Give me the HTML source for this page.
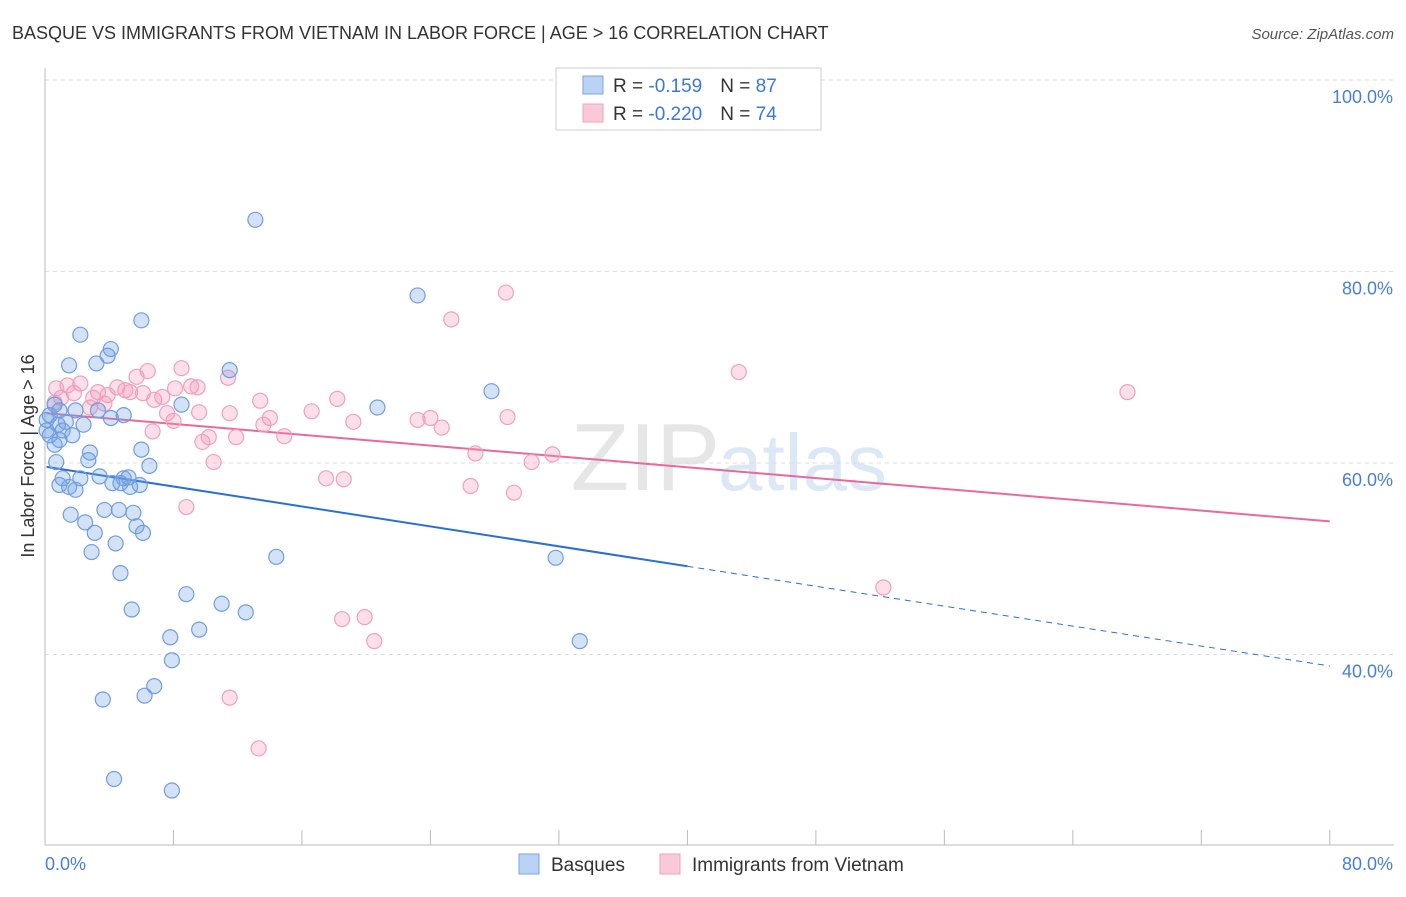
<!DOCTYPE html>
<html><head><meta charset="utf-8"><style>
body{margin:0;background:#fff;font-family:"Liberation Sans",sans-serif;}
svg text{font-family:"Liberation Sans",sans-serif;}
</style></head><body>
<svg id="chart" width="1406" height="892" xmlns="http://www.w3.org/2000/svg">
<text x="12" y="39" font-size="18" fill="#333">BASQUE VS IMMIGRANTS FROM VIETNAM IN LABOR FORCE | AGE &gt; 16 CORRELATION CHART</text>
<text x="1394" y="39" font-size="15" fill="#555" font-style="italic" text-anchor="end">Source: ZipAtlas.com</text>
<text x="720" y="490" font-size="96" fill="#e6e6e6" font-family="Liberation Serif" text-anchor="end">ZIP</text>
<text x="718" y="490" font-size="80" fill="#dce8f6">atlas</text>
<g id="grid"></g><g id="axes"></g><g id="trend"></g><g id="pts"></g>
<text transform="translate(34,456) rotate(-90)" font-size="18" fill="#333" text-anchor="middle">In Labor Force | Age &gt; 16</text>
<text x="45" y="870" font-size="18" fill="#4a7fd4">0.0%</text>
<text x="1393" y="870" font-size="18" fill="#4a7fd4" text-anchor="end">80.0%</text>
<g>
<rect x="556" y="68" width="265" height="62" fill="#fff" stroke="#ccc"/>
<rect x="583" y="76" width="20" height="18" fill="#b9d3f5" stroke="#7aa6e0"/>
<rect x="583" y="104" width="20" height="18" fill="#f9c9d8" stroke="#eea3bd"/>
<text x="613" y="92" font-size="19" fill="#333">R = <tspan fill="#3c78d8"> -0.159</tspan><tspan dx="18">N = </tspan><tspan fill="#3c78d8">87</tspan></text>
<text x="613" y="120" font-size="19" fill="#333">R = <tspan fill="#3c78d8">-0.220</tspan><tspan dx="18">N = </tspan><tspan fill="#3c78d8">74</tspan></text>
</g>
<g>
<rect x="519" y="854" width="20" height="20" fill="#b9d3f5" stroke="#7aa6e0"/>
<text x="551" y="871" font-size="19" fill="#333">Basques</text>
<rect x="660" y="854" width="20" height="20" fill="#f9c9d8" stroke="#eea3bd"/>
<text x="692" y="871" font-size="19" fill="#333">Immigrants from Vietnam</text>
</g>
</svg>
<script>
const yTicks=[40,60,80,100];
const xTickCount=10;
const blueX=[13.1,23.2,6.0,2.2,4.1,3.9,1.5,3.2,11.5,27.8,20.7,8.5,4.9,4.1,0.6,0.3,0.9,1.9,3.3,0.8,0.1,1.1,2.4,1.7,0.9,0.6,2.8,2.7,6.0,0.7,6.5,1.1,3.4,2.2,4.9,5.2,5.9,0.9,1.5,1.9,5.3,4.7,1.6,3.7,4.6,5.5,2.5,5.7,6.1,3.1,4.4,2.9,14.4,31.8,4.7,8.8,5.4,11.0,12.5,9.6,7.8,33.3,7.9,6.8,6.2,3.6,4.3,7.9,0.1,0.3,1.3,4.2];
const blueY=[85.4,77.5,74.9,73.4,71.9,71.2,70.2,70.4,69.7,67.5,65.8,66.1,65.0,64.7,66.1,65.0,65.5,65.5,65.5,64.0,63.4,63.4,64.0,62.9,62.4,61.9,61.1,60.3,61.4,60.1,59.7,58.4,58.6,58.4,58.4,58.5,57.7,57.7,57.5,57.2,57.5,57.9,54.6,55.1,55.1,54.8,53.8,53.4,52.7,52.7,51.6,50.7,50.2,50.1,48.5,46.3,44.7,45.3,44.4,42.6,41.8,41.4,39.4,36.7,35.7,35.3,27.0,25.8,64.5,62.9,64.3,57.9];
const pinkX=[28.7,25.3,43.2,67.4,8.5,6.4,5.7,11.4,9.1,9.5,8.1,4.5,5.0,2.2,1.4,0.7,1.8,3.3,3.9,3.0,5.3,6.1,6.8,7.3,1.0,0.6,13.4,18.2,16.6,11.5,14.0,23.2,24.0,28.8,19.2,9.6,7.6,8.0,13.6,14.9,11.9,10.2,9.8,6.7,24.7,26.8,31.6,30.3,10.5,17.5,18.6,26.5,29.2,8.8,52.2,18.5,19.9,20.5,11.5,13.3,3.7,2.8];
const pinkY=[77.8,75.0,69.5,67.4,69.9,69.6,69.0,68.9,68.0,67.9,67.8,67.9,67.6,68.3,68.1,67.8,67.3,67.4,67.1,66.8,67.4,67.3,66.6,66.9,66.8,66.3,66.5,66.7,65.4,65.2,64.7,64.5,64.7,64.8,64.3,65.3,65.2,64.4,64.0,62.8,62.7,62.7,62.2,63.3,63.7,61.0,60.9,60.1,60.1,58.4,58.3,57.6,56.9,55.4,47.0,43.7,43.9,41.4,35.5,30.2,66.2,65.8];
const blueTrend=[59.6,38.8];
const pinkTrend=[65.2,53.9];
const NS="http://www.w3.org/2000/svg";
const xs=v=>45+v*16.06;
const ys=v=>463-(v-60)*9.575;
function mk(tag,attrs,parent){const e=document.createElementNS(NS,tag);for(const k in attrs)e.setAttribute(k,attrs[k]);document.getElementById(parent).appendChild(e);return e;}
yTicks.forEach(t=>{
 const g=mk('line',{x1:45,x2:1394,y1:ys(t),y2:ys(t),stroke:'#ddd','stroke-dasharray':'4,4'},'grid');
 
 
 const l=mk('text',{x:1393,y:ys(t)+23,'font-size':18,fill:'#4a7fd4','text-anchor':'end'},'grid');
 l.textContent=t.toFixed(1)+'%';
 
 
});
const ax=mk('line',{x1:45,x2:1394,y1:845,y2:845,stroke:'#bbb'},'axes');


const ay=mk('line',{x1:45,x2:45,y1:68,y2:845,stroke:'#bbb'},'axes');


for(let i=0;i<=xTickCount;i++){const v=i*8;
 const t=mk('line',{x1:xs(v),x2:xs(v),y1:830,y2:845,stroke:'#bbb'},'axes');
 
 
}
function dots(X,Y,fill,stroke,name){X.forEach((x,i)=>{
 const c=mk('circle',{cx:xs(x),cy:ys(Y[i]),r:7.5,fill:fill,stroke:stroke,'stroke-width':1.2},'pts');
 
 
});}
dots(pinkX,pinkY,'rgba(244,150,180,0.3)','#f0a0bc','vietnam-point');
dots(blueX,blueY,'rgba(110,160,230,0.3)','#6f9de0','basque-point');
const bm=blueTrend[0]+(blueTrend[1]-blueTrend[0])*(40-0.1)/79.9;
const b1=mk('line',{x1:xs(0.1),y1:ys(blueTrend[0]),x2:xs(40),y2:ys(bm),stroke:'#2a6fd6','stroke-width':2},'trend');


const b2=mk('line',{x1:xs(40),y1:ys(bm),x2:xs(80),y2:ys(blueTrend[1]),stroke:'#2a6fd6','stroke-width':1,'stroke-dasharray':'6,5'},'trend');


const p1=mk('line',{x1:xs(0.1),y1:ys(pinkTrend[0]),x2:xs(80),y2:ys(pinkTrend[1]),stroke:'#e8699a','stroke-width':2},'trend');


</script>
</body></html>
